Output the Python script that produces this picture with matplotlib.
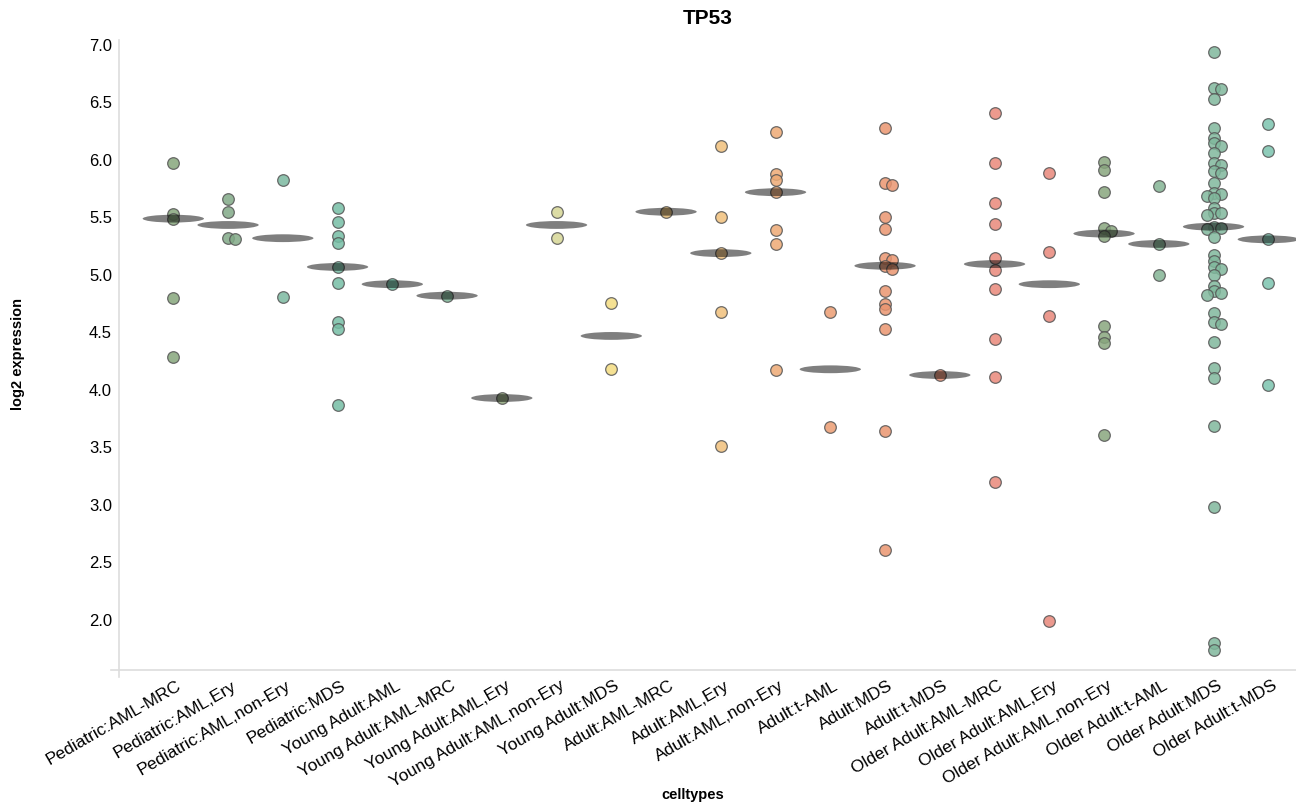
import numpy as np
import matplotlib
matplotlib.use("Agg")
import matplotlib.pyplot as plt
from matplotlib.patches import Ellipse
from matplotlib.transforms import ScaledTranslation

plt.rcParams['font.family'] = ['Liberation Sans', 'DejaVu Sans']

categories = [
    "Pediatric:AML-MRC", "Pediatric:AML,Ery", "Pediatric:AML,non-Ery", "Pediatric:MDS",
    "Young Adult:AML", "Young Adult:AML-MRC", "Young Adult:AML,Ery", "Young Adult:AML,non-Ery",
    "Young Adult:MDS", "Adult:AML-MRC", "Adult:AML,Ery", "Adult:AML,non-Ery", "Adult:t-AML",
    "Adult:MDS", "Adult:t-MDS", "Older Adult:AML-MRC", "Older Adult:AML,Ery",
    "Older Adult:AML,non-Ery", "Older Adult:t-AML", "Older Adult:MDS", "Older Adult:t-MDS",
]

ped_aml_mrc = [5.97, 5.53, 5.49, 4.80, 4.29]
ped_aml_ery = [5.66, 5.55, 5.32, 5.31]
ped_aml_nonery = [5.83, 4.81]
ped_mds = [5.58, 5.46, 5.34, 5.28, 5.07, 4.93, 4.59, 4.53, 3.87]
ya_aml = [4.92]
ya_aml_mrc = [4.82]
ya_aml_ery = [3.93]
ya_aml_nonery = [5.55, 5.32]
ya_mds = [4.76, 4.18]
adult_aml_mrc = [5.55]
adult_aml_ery = [6.12, 5.50, 5.19, 4.68, 3.51]
adult_aml_nonery = [6.24, 5.88, 5.83, 5.72, 5.39, 5.27, 4.17]
adult_t_aml = [4.68, 3.68]
adult_mds = [6.28, 5.80, 5.78, 5.50, 5.40, 5.15, 5.13, 5.08, 5.05, 4.86, 4.75, 4.70, 4.53, 3.64, 2.61]
adult_t_mds = [4.13]
oa_aml_mrc = [6.41, 5.97, 5.63, 5.44, 5.15, 5.04, 4.88, 4.44, 4.11, 3.20]
oa_aml_ery = [5.89, 5.20, 4.64, 1.99]
oa_aml_nonery = [5.98, 5.91, 5.72, 5.41, 5.38, 5.34, 4.56, 4.46, 4.41, 3.61]
oa_t_aml = [5.77, 5.27, 5.00]
oa_mds = [6.94, 6.63, 6.62, 6.53, 6.28, 6.19, 6.15, 6.12, 6.06, 5.97, 5.96, 5.90, 5.89,
          5.80, 5.71, 5.70, 5.69, 5.67, 5.58, 5.54, 5.54, 5.52, 5.42, 5.41, 5.40, 5.33,
          5.17, 5.12, 5.07, 5.05, 5.00, 4.90, 4.86, 4.84, 4.83, 4.67, 4.59, 4.57, 4.42,
          4.19, 4.10, 3.69, 2.98, 1.80, 1.74]
oa_t_mds = [6.31, 6.08, 5.31, 4.93, 4.04]

group_values = [
    ped_aml_mrc, ped_aml_ery, ped_aml_nonery, ped_mds,
    ya_aml, ya_aml_mrc, ya_aml_ery, ya_aml_nonery, ya_mds,
    adult_aml_mrc, adult_aml_ery, adult_aml_nonery, adult_t_aml, adult_mds, adult_t_mds,
    oa_aml_mrc, oa_aml_ery, oa_aml_nonery, oa_t_aml, oa_mds, oa_t_mds,
]

colors = [
    "#86a67c", "#82aa87", "#7cb9a0", "#76bea5",
    "#6fbfa5", "#7db597", "#8ea57a", "#d6d696", "#f4dc80",
    "#dcb46e", "#f0c07c", "#eeaa74", "#eb9c72", "#ea9570", "#e58a6e",
    "#e9887a", "#e8877a", "#88a67e", "#84b494", "#80b89c", "#7cc4ae",
]

yticks = [2.0, 2.5, 3.0, 3.5, 4.0, 4.5, 5.0, 5.5, 6.0, 6.5, 7.0]

W, H = 1296, 805
fig = plt.figure(figsize=(W / 100, H / 100), dpi=100)
ax_l, ax_r, ax_t, ax_b = 119, 1296, 40, 670
ax = fig.add_axes([ax_l / W, 1 - ax_b / H, (ax_r - ax_l) / W, (ax_b - ax_t) / H])
xlim = (-0.992, 20.506)
ylim = (1.565, 7.0435)
ax.set_xlim(*xlim)
ax.set_ylim(*ylim)
xpx = (ax_r - ax_l) / (xlim[1] - xlim[0])
ypx = (ax_b - ax_t) / (ylim[1] - ylim[0])


def swarm_offsets(vals, dmin=4.0, step=7.0):
    placed = []
    offs = []
    cands = [0.0] + [s * m * step for m in range(1, 8) for s in (1, -1)]
    for v in vals:
        yp = v * ypx
        chosen = cands[-1]
        for c in cands:
            if all((c - px) ** 2 + (yp - py) ** 2 >= dmin ** 2 for px, py in placed):
                chosen = c
                break
        placed.append((chosen, yp))
        offs.append(chosen / xpx)
    return offs


for i, (vals, col) in enumerate(zip(group_values, colors)):
    offs = swarm_offsets(vals)
    xs = [i + o for o in offs]
    ax.scatter(xs, vals, s=70, facecolor=col, edgecolor="#555555", linewidths=0.9,
               alpha=0.85, zorder=2)
    med = float(np.median(vals))
    ax.add_patch(Ellipse((i, med), width=1.12, height=0.068, facecolor="black",
                         edgecolor="none", alpha=0.5, zorder=3))

for s in ax.spines.values():
    s.set_visible(False)
ax.plot([0, 0], [-7 / (ax_b - ax_t), 1], transform=ax.transAxes, color="#dddddd",
        lw=1.2, clip_on=False, zorder=1)
ax.plot([-8 / (ax_r - ax_l), 1], [0, 0], transform=ax.transAxes, color="#dddddd",
        lw=1.2, clip_on=False, zorder=1)

ax.set_yticks(yticks)
ax.set_yticklabels([f"{t:.1f}" for t in yticks], fontsize=12)
ax.tick_params(axis="y", length=0, pad=5)
ax.set_xticks(range(len(categories)))
ax.set_xticklabels(categories, fontsize=12.5, rotation=30, ha="right", va="center",
                   rotation_mode="anchor")
ax.tick_params(axis="x", length=0, pad=12)
shift = ScaledTranslation(7 / 100, 2 / 100, fig.dpi_scale_trans)
for lab in ax.get_xticklabels():
    lab.set_transform(lab.get_transform() + shift)

fig.text((ax_l + ax_r) / 2 / W, 1 - 19 / H, "TP53", ha="center", va="center",
         fontsize=15, fontweight="bold")
fig.text(18 / W, 1 - 354 / H, "log2 expression", rotation=90, ha="center", va="center",
         fontsize=10.5, fontweight="bold")
fig.text(693 / W, 1 - 795 / H, "celltypes", ha="center", va="center",
         fontsize=10.5, fontweight="bold")

fig.savefig("out.png", dpi=100)
